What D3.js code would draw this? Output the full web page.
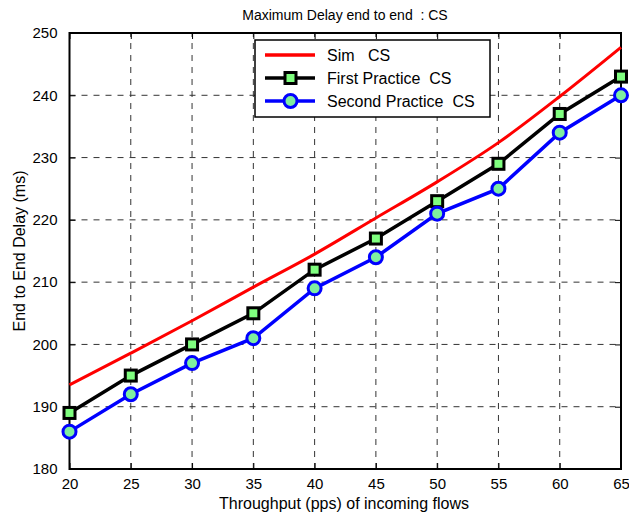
<!DOCTYPE html>
<html>
<head>
<meta charset="utf-8">
<script src="https://cdn.jsdelivr.net/npm/d3@7"></script>
<style>
  body { margin: 0; background: #fff; }
  text { font-family: 'Liberation Sans', Arial, sans-serif; white-space: pre; }
</style>
</head>
<body>
<script>
// chart data
let throughput = [20, 25, 30, 35, 40, 45, 50, 55, 60, 65]
let simCS = [193.5, 198.6, 203.8, 209.2, 214.5, 220.3, 226.1, 232.4, 239.8, 247.7]
let firstCS = [189, 195, 200, 205, 212, 217, 223, 229, 237, 243]
let secondCS = [186, 192, 197, 201, 209, 214, 221, 225, 234, 240]
let yTicks = [180, 190, 200, 210, 220, 230, 240, 250]

function buildChart () {
  var width = 629
  var height = 518
  var margin = { left: 69.5, right: 8, top: 33, bottom: 49 }

  var svg = d3.select('body')
    .append('svg')
    .attr('width', width)
    .attr('height', height)

  var x = d3.scaleLinear().domain([20, 65]).range([margin.left, width - margin.right])
  var y = d3.scaleLinear().domain([180, 250]).range([height - margin.bottom, margin.top])

  // dashed grid
  var grid = svg.append('g')
  grid.selectAll('.vg')
    .data(throughput.slice(1, -1))
    .enter().append('line')
    .attr('x1', d => x(d)).attr('x2', d => x(d))
    .attr('y1', y(180)).attr('y2', y(250))
    .attr('stroke', '#333').attr('stroke-width', 1)
    .attr('stroke-dasharray', '6,6')
  grid.selectAll('.hg')
    .data(yTicks.slice(1, -1))
    .enter().append('line')
    .attr('x1', x(20)).attr('x2', x(65))
    .attr('y1', d => y(d)).attr('y2', d => y(d))
    .attr('stroke', '#333').attr('stroke-width', 1)
    .attr('stroke-dasharray', '6,6')

  // axes with inner ticks on all sides
  svg.append('g')
    .attr('transform', 'translate(0,' + y(180) + ')')
    .call(d3.axisBottom(x).tickValues(throughput).tickSize(-6).tickPadding(9))
  svg.append('g')
    .attr('transform', 'translate(0,' + y(250) + ')')
    .call(d3.axisTop(x).tickValues(throughput).tickSize(-6).tickFormat(''))
  svg.append('g')
    .attr('transform', 'translate(' + x(20) + ',0)')
    .call(d3.axisLeft(y).tickValues(yTicks).tickSize(-6).tickPadding(12))
  svg.append('g')
    .attr('transform', 'translate(' + x(65) + ',0)')
    .call(d3.axisRight(y).tickValues(yTicks).tickSize(-6).tickFormat(''))

  svg.selectAll('.domain').remove()
  svg.selectAll('.tick line').attr('stroke', '#000').attr('stroke-width', 1)
  svg.selectAll('.tick text').attr('font-size', 15).attr('fill', '#000')
    .style('font-family', "'Liberation Sans', Arial, sans-serif")

  svg.append('rect')
    .attr('x', x(20)).attr('y', y(250))
    .attr('width', x(65) - x(20)).attr('height', y(180) - y(250))
    .attr('fill', 'none').attr('stroke', '#000').attr('stroke-width', 2)

  // series
  var line = d3.line().x((d, i) => x(throughput[i])).y(d => y(d))
  var simLine = d3.line().curve(d3.curveMonotoneX).x((d, i) => x(throughput[i])).y(d => y(d))

  svg.append('path').datum(simCS).attr('d', simLine)
    .attr('fill', 'none').attr('stroke', '#ff0000').attr('stroke-width', 3)

  svg.append('path').datum(firstCS).attr('d', line)
    .attr('fill', 'none').attr('stroke', '#000').attr('stroke-width', 3.5)
  svg.selectAll('.sq')
    .data(firstCS).enter().append('rect')
    .attr('x', (d, i) => x(throughput[i]) - 5.5)
    .attr('y', d => y(d) - 5.5)
    .attr('width', 11).attr('height', 11)
    .attr('fill', '#7fff7f').attr('stroke', '#000').attr('stroke-width', 3)

  svg.append('path').datum(secondCS).attr('d', line)
    .attr('fill', 'none').attr('stroke', '#0000ff').attr('stroke-width', 3.5)
  svg.selectAll('.ci')
    .data(secondCS).enter().append('circle')
    .attr('cx', (d, i) => x(throughput[i]))
    .attr('cy', d => y(d))
    .attr('r', 6.5)
    .attr('fill', '#7fef9f').attr('stroke', '#0000ff').attr('stroke-width', 3)

  // legend
  var lg = svg.append('g').attr('transform', 'translate(255,40)')
  lg.append('rect').attr('width', 235).attr('height', 77)
    .attr('fill', '#fff').attr('stroke', '#000').attr('stroke-width', 1.5)
  var rows = [
    { name: 'Sim   CS', color: '#ff0000', mark: null },
    { name: 'First Practice  CS', color: '#000', mark: 'sq' },
    { name: 'Second Practice  CS', color: '#0000ff', mark: 'ci' }
  ]
  rows.forEach(function (r, i) {
    var cy = 15 + i * 23
    lg.append('line').attr('x1', 10).attr('x2', 60).attr('y1', cy).attr('y2', cy)
      .attr('stroke', r.color).attr('stroke-width', 3.5)
    if (r.mark === 'sq') {
      lg.append('rect').attr('x', 30).attr('y', cy - 5.5).attr('width', 11).attr('height', 11)
        .attr('fill', '#7fff7f').attr('stroke', '#000').attr('stroke-width', 3)
    } else if (r.mark === 'ci') {
      lg.append('circle').attr('cx', 35.5).attr('cy', cy).attr('r', 6.5)
        .attr('fill', '#7fef9f').attr('stroke', '#0000ff').attr('stroke-width', 3)
    }
    lg.append('text').attr('x', 72).attr('y', cy + 6)
      .attr('font-size', 16).text(r.name)
  })

  // titles
  svg.append('text').attr('x', 345).attr('y', 20).attr('text-anchor', 'middle')
    .attr('font-size', 14).text('Maximum Delay end to end  : CS')
  svg.append('text').attr('x', 344).attr('y', 509).attr('text-anchor', 'middle')
    .attr('font-size', 16).text('Throughput (pps) of incoming flows')
  svg.append('text').attr('transform', 'translate(25,' + ((y(180) + y(250)) / 2) + ') rotate(-90)')
    .attr('text-anchor', 'middle').attr('font-size', 16).text('End to End Delay (ms)')
}

buildChart()
</script>
</body>
</html>
